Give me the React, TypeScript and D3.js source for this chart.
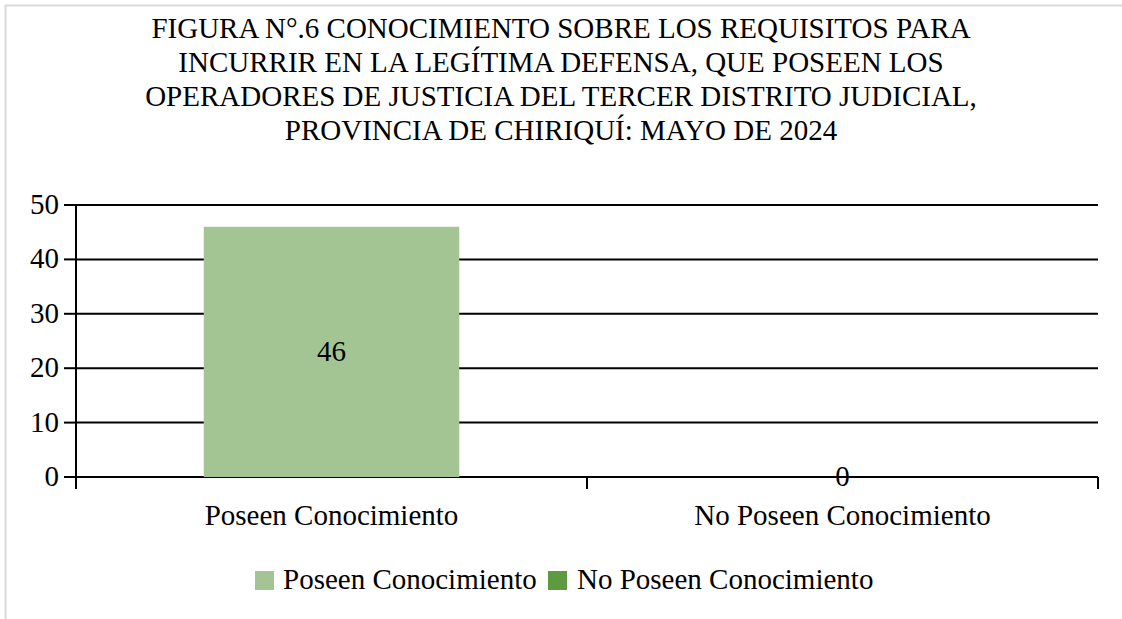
import React from "react";
import * as d3 from "d3";

const titleLines = [
  "FIGURA N°.6 CONOCIMIENTO SOBRE LOS REQUISITOS PARA",
  "INCURRIR EN LA LEGÍTIMA DEFENSA, QUE POSEEN LOS",
  "OPERADORES DE JUSTICIA DEL TERCER DISTRITO JUDICIAL,",
  "PROVINCIA DE CHIRIQUÍ: MAYO DE 2024",
];
const categories = ["Poseen Conocimiento", "No Poseen Conocimiento"];
const values = [46, 0];
const colors = ["#A2C593", "#5E9B40"];
const yTicks = [0, 10, 20, 30, 40, 50];

const W = 1122;
const H = 619;
const FONT = '"Liberation Serif", "Tinos", "DejaVu Serif", "Times New Roman", Times, serif';

export default function App() {
  const left = 76;
  const right = 1098;
  const top = 205;
  const bottom = 477;

  const x = d3.scaleBand<string>().domain(categories).range([left, right]).paddingInner(0).paddingOuter(0);
  const y = d3.scaleLinear().domain([0, 50]).range([bottom, top]);
  const barW = x.bandwidth() / 2;
  const fs = 29;

  return (
    <svg
      width={W}
      height={H}
      style={{ position: "absolute", left: 0, top: 0, background: "#fff", fontFamily: FONT }}
    >
      <rect x={5.5} y={5.5} width={W + 10} height={H + 10} fill="#fff" stroke="#d9d9d9" strokeWidth={2} />
      {titleLines.map((t, i) => (
        <text key={i} x={561} y={38 + i * 34} textAnchor="middle" fontSize={29} fill="#000">
          {t}
        </text>
      ))}
      {yTicks.map((t) => (
        <line key={"g" + t} x1={left} x2={right} y1={y(t)} y2={y(t)} stroke="#000" strokeWidth={2} />
      ))}
      {categories.map((c, i) => (
        <rect
          key={"b" + c}
          x={(x(c) as number) + x.bandwidth() / 4}
          y={y(values[i])}
          width={barW}
          height={bottom - y(values[i])}
          fill={colors[0]}
        />
      ))}
      <line x1={left} x2={left} y1={top} y2={bottom + 12} stroke="#000" strokeWidth={2} />
      {yTicks.map((t) => (
        <g key={"t" + t}>
          <line x1={left - 12} x2={left} y1={y(t)} y2={y(t)} stroke="#000" strokeWidth={2} />
          <text x={left - 17} y={y(t) + 9} textAnchor="end" fontSize={fs} fill="#000">
            {t}
          </text>
        </g>
      ))}
      {[left, ...categories.map((c) => (x(c) as number) + x.bandwidth())].map((px, i) => (
        <line key={"xt" + i} x1={px} x2={px} y1={bottom} y2={bottom + 12} stroke="#000" strokeWidth={2} />
      ))}
      {categories.map((c, i) => (
        <text
          key={"v" + c}
          x={(x(c) as number) + x.bandwidth() / 2}
          y={values[i] > 0 ? (y(values[i]) + bottom) / 2 + 9 : bottom + 9}
          textAnchor="middle"
          fontSize={fs}
          fill="#000"
        >
          {values[i]}
        </text>
      ))}
      {categories.map((c) => (
        <text key={"c" + c} x={(x(c) as number) + x.bandwidth() / 2} y={525} textAnchor="middle" fontSize={fs} fill="#000">
          {c}
        </text>
      ))}
      <rect x={255} y={571} width={19} height={19} fill={colors[0]} />
      <text x={283} y={589} fontSize={fs} fill="#000">{categories[0]}</text>
      <rect x={548} y={571} width={19} height={19} fill={colors[1]} />
      <text x={577} y={589} fontSize={fs} fill="#000">{categories[1]}</text>
    </svg>
  );
}
